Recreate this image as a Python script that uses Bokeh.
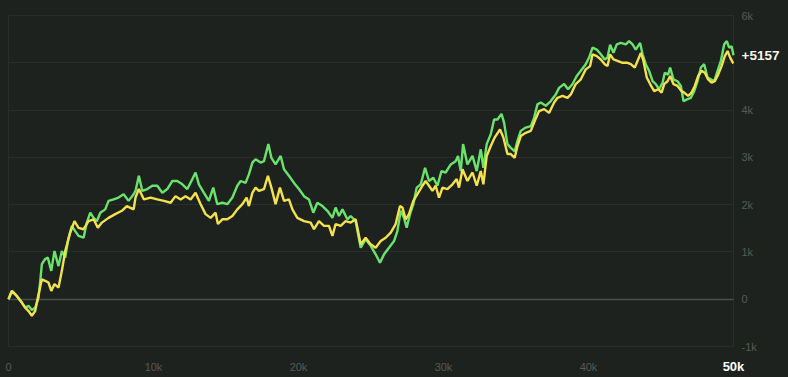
from bokeh.plotting import figure
from bokeh.models import FixedTicker, Range1d, LinearAxis, Grid
from bokeh.embed import file_html
from bokeh.resources import INLINE

# ---- data ----
green_x = [0,230,570,920,1150,1380,1610,1840,2070,2190,
           2300,2530,2710,2950,3170,3450,3680,3910,4140,4370,
           4600,4830,5180,5400,5640,5870,6090,6330,6670,6900,
           7250,7590,7940,8280,8630,8760,8990,9230,9570,9920,
           10260,10610,10950,11300,11640,11990,12330,12680,12900,13130,
           13480,13820,14120,14400,14750,15090,15440,15780,16010,16350,
           16580,16820,17040,17390,17620,17920,18130,18420,18770,19000,
           19340,19690,20030,20380,20720,21020,21300,21650,21990,22340,
           22560,22790,23030,23370,23600,23940,24290,24630,24980,25320,
           25620,25900,26240,26590,26820,27050,27280,27460,27690,27920,
           28150,28430,28730,29000,29300,29580,29860,30150,30500,30840,
           31000,31190,31350,31650,32000,32290,32570,32750,32980,33260,
           33490,33720,34000,34180,34410,34640,34910,35100,35330,35670,
           36020,36250,36480,36710,37050,37400,37740,37970,38320,38590,
           38900,39190,39470,39810,40040,40280,40570,40850,41120,41310,
           41490,41720,41950,42230,42570,42800,43040,43260,43560,43730,
           43950,44180,44420,44640,44870,45110,45260,45490,45630,45860,
           46140,46370,46550,46830,47060,47290,47520,47750,47980,48210,
           48440,48670,48900,49130,49360,49540,49700,49870,50000]
green_y = [0,175,70,-70,-180,-140,-230,-180,30,390,
           740,850,880,600,1020,700,1020,880,1300,1550,
           1440,1340,1300,1620,1830,1720,1650,1830,1900,2080,
           2110,2150,2220,2080,2220,2290,2610,2290,2330,2400,
           2400,2250,2330,2500,2500,2430,2330,2540,2680,2430,
           2250,2080,2360,2010,2040,2010,2150,2400,2500,2460,
           2640,2890,2960,2890,2920,3280,2990,2850,3030,2750,
           2610,2460,2330,2180,2110,1830,2040,1970,1870,1720,
           1940,1760,1900,1690,1760,1650,1090,1270,1130,950,
           770,950,1090,1230,1440,1870,1720,1510,1800,2010,
           2360,2430,2780,2500,2570,2400,2710,2680,2850,2920,
           3030,2710,3280,2850,3030,2710,3170,2780,3280,3490,
           3800,3800,3920,3730,3280,3200,3130,3350,3560,3630,
           3660,3840,4120,4160,4090,4190,4330,4470,4550,4440,
           4550,4720,4830,4970,5110,5320,5280,5180,5070,5110,
           5380,5210,5390,5420,5390,5460,5390,5280,5420,5180,
           4970,4830,4610,4550,4440,4580,4790,4750,4900,4650,
           4610,4510,4190,4230,4260,4400,4610,4900,4970,4690,
           4650,4610,4830,5040,5390,5460,5320,5350,5157]

yellow_x = [0,230,570,920,1150,1380,1610,1840,2070,2300,
            2530,2760,2950,3170,3450,3680,3910,4260,4550,4830,
            5180,5520,5870,6160,6440,6900,7360,7820,8160,8630,
            8760,8990,9340,9800,10260,10720,11180,11520,11870,12210,
            12560,12900,13250,13590,13940,14280,14440,14750,15090,15440,
            15780,16130,16420,16580,16820,17040,17270,17620,17890,18130,
            18420,18720,19000,19340,19580,19920,20380,20840,21070,21410,
            21760,22100,22340,22560,22910,23250,23600,23940,24290,24630,
            24980,25320,25670,26010,26360,26700,27000,27170,27390,27620,
            27920,28200,28550,28770,29000,29240,29460,29690,29930,30270,
            30620,30910,31070,31310,31650,32000,32290,32570,32750,32980,
            33260,33530,33900,34130,34410,34640,34910,35100,35330,35670,
            36020,36290,36590,36940,37280,37630,37860,38210,38550,38780,
            39120,39470,39810,40110,40280,40570,40850,41120,41310,41490,
            41720,42000,42350,42690,42920,43190,43330,43610,43790,44020,
            44250,44530,44810,45040,45220,45450,45630,45860,46140,46420,
            46600,46870,47110,47330,47560,47800,48020,48250,48490,48710,
            48940,49180,49400,49590,49770,49960,50000]
yellow_y = [0,175,70,-70,-180,-250,-350,-250,100,420,
            390,350,175,320,245,600,1020,1410,1650,1510,
            1480,1650,1690,1510,1620,1720,1800,1870,1970,1900,
            2150,2330,2110,2150,2110,2080,2040,2180,2110,2180,
            2110,2250,2010,1800,1720,1830,1590,1690,1690,1760,
            1900,2010,2150,1970,2250,2360,2290,2330,2610,2360,
            2010,2360,2080,2110,1900,1720,1650,1620,1480,1650,
            1550,1550,1340,1590,1550,1650,1620,1690,1160,1300,
            1160,1090,1230,1300,1410,1590,1970,1940,1690,1800,
            2080,2220,2400,2500,2400,2290,2400,2150,2360,2330,
            2430,2540,2360,2750,2500,2680,2400,2710,2430,3030,
            3240,3420,3590,3420,3070,3070,2990,3240,3450,3520,
            3560,3770,3980,4020,3940,4160,4260,4300,4260,4330,
            4550,4650,4860,4930,5180,5140,5070,4970,4930,5180,
            5070,5040,5000,5000,4970,4900,5000,5210,5040,4690,
            4550,4400,4440,4370,4550,4610,4720,4550,4510,4400,
            4370,4300,4370,4510,4720,4830,4790,4650,4580,4610,
            4750,4930,5140,5250,5110,5000,4990]

x_ticks = [0, 10000, 20000, 30000, 40000]
x_tick_labels = ["0", "10k", "20k", "30k", "40k"]
y_ticks = [0, 1000, 2000, 3000, 4000]
y_tick_labels = ["0", "1k", "2k", "3k", "4k"]
y_top_label = "6k"
y_bottom_label = "-1k"
y_grid = [-1000, 1000, 2000, 3000, 4000, 5000, 6000]
final_value = 5157
final_label = "+5157"
x_start, x_end = 0, 50000
x_end_label = "50k"
y_min, y_max = -1000, 6000

BG = "#1e221f"
GRID = "#2a2e2b"
ZERO = "#4a4e4b"
TICK = "#555a56"
GREEN = "#6ae36c"
YELLOW = "#f3e24c"
FONT = "Liberation Sans"

# layout (pixels): canvas 788x377; the plot box starts 8 px from the left and
# 15 px from the top and is 725 x 331 px; the labels live in the rest of the canvas
W, H = 788, 377
BOX_L, BOX_T, BOX_W, BOX_H = 8, 15, 725, 331
ux = (x_end - x_start) / BOX_W
uy = (y_max - y_min) / BOX_H

p = figure(width=W, height=H, output_backend="svg", toolbar_location=None,
           x_axis_location=None, y_axis_location=None,
           x_range=Range1d(x_start - BOX_L * ux, x_start + (W - BOX_L) * ux),
           y_range=Range1d(y_min - (H - BOX_T - BOX_H) * uy, y_max + BOX_T * uy),
           min_border_left=0, min_border_top=0, min_border_right=0,
           min_border_bottom=0)
p.background_fill_color = BG
p.border_fill_color = BG
p.outline_line_color = None
p.xgrid.visible = False
p.ygrid.visible = False

# horizontal grid, limited to the plot box (top and bottom lines close the box)
p.add_layout(Grid(dimension=1, ticker=FixedTicker(ticks=y_grid), cross_bounds=(x_start, x_end),
                  grid_line_color=GRID, grid_line_width=1))
# plot box left / right edges
p.add_layout(Grid(dimension=0, ticker=FixedTicker(ticks=[x_start, x_end]), cross_bounds=(y_min, y_max),
                  grid_line_color=GRID, grid_line_width=1))
# zero line
p.add_layout(Grid(dimension=1, ticker=FixedTicker(ticks=[0]), cross_bounds=(x_start, x_end),
                  grid_line_color=ZERO, grid_line_width=1.3))

def make_axis(ticks, labels, loc, side, color, size, bold, standoff, baseline=None):
    ax = LinearAxis(ticker=FixedTicker(ticks=ticks),
                    major_label_overrides={t: s for t, s in zip(ticks, labels)})
    ax.fixed_location = loc
    ax.axis_line_color = None
    ax.major_tick_line_color = None
    ax.minor_tick_line_color = None
    ax.major_tick_out = 0
    ax.major_tick_in = 0
    ax.major_label_standoff = standoff
    ax.major_label_text_color = color
    ax.major_label_text_font = FONT
    ax.major_label_text_font_size = size
    ax.major_label_text_font_style = "bold" if bold else "normal"
    if baseline is not None:
        ax.major_label_text_baseline = baseline
    p.add_layout(ax, side)
    return ax

make_axis(x_ticks, x_tick_labels, y_min, "below", TICK, "11px", False, 14)
make_axis([x_end], [x_end_label], y_min, "below", "#ffffff", "13px", True, 12)
make_axis(y_ticks, y_tick_labels, x_end, "right", TICK, "11px", False, 8)
make_axis([y_max], [y_top_label], x_end, "right", TICK, "11px", False, 8, "top")
make_axis([y_min], [y_bottom_label], x_end, "right", TICK, "11px", False, 8, "bottom")
make_axis([final_value], [final_label], x_end, "right", "#f2f5ee", "13.5px", True, 8)

p.line(green_x, green_y, line_color=GREEN, line_width=2.4)
p.line(yellow_x, yellow_y, line_color=YELLOW, line_width=2.4)

html = file_html(p, INLINE)
html = html.replace("<head>", "<head><style>html,body{margin:0;padding:0;background:%s;overflow:hidden}</style>" % BG, 1)
open("out.html", "w").write(html)
